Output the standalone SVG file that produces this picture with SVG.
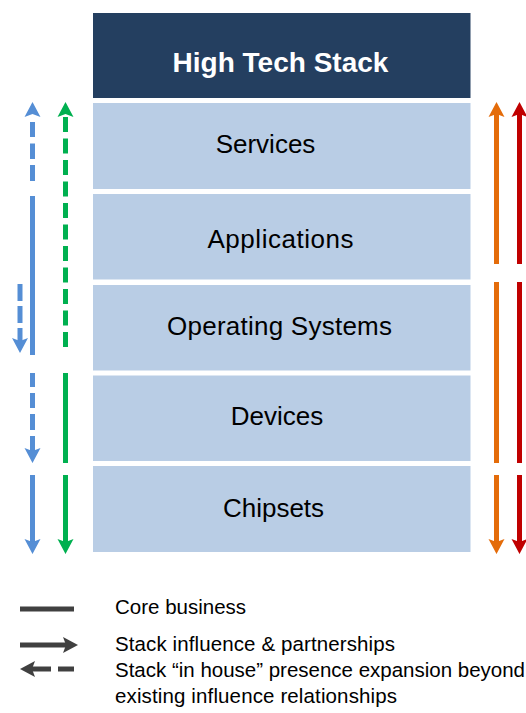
<svg xmlns="http://www.w3.org/2000/svg" xmlns:xlink="http://www.w3.org/1999/xlink" width="526" height="713" viewBox="0 0 526 713">
  <style>
    .layer { fill: #b9cde5; }
    .layer-label { font-family: "Liberation Sans", Arial, sans-serif; font-size: 26px; fill: #000000; text-anchor: middle; }
    .title { font-family: "Liberation Sans", Arial, sans-serif; font-size: 28px; font-weight: bold; fill: #ffffff; text-anchor: middle; }
    .shaft { stroke-width: 5; fill: none; stroke-linecap: butt; }
    .dash { stroke-dasharray: 15 6.5; }
    .blue { stroke: #558ed5; fill: #558ed5; }
    .green { stroke: #00b050; fill: #00b050; }
    .orange { stroke: #e46c0a; fill: #e46c0a; }
    .red { stroke: #c00000; fill: #c00000; }
    .grey { stroke: #404040; fill: #404040; }
    .head { stroke: none; }
    .legend-text { font-family: "Liberation Sans", Arial, sans-serif; font-size: 20.5px; fill: #000000; }
  </style>
  <defs>
    <!-- arrowhead pointing down, tip at the origin -->
    <path id="head" d="M0,0 L-8,-15 L0,-12 L8,-15 Z"/>
  </defs>

  <rect width="526" height="713" fill="#ffffff"/>

  <g id="title">
    <rect x="93" y="13" width="377.5" height="85" fill="#243f60"/>
    <text class="title" x="280.5" y="72">High Tech Stack</text>
  </g>
  <g id="services">
    <rect class="layer" x="93" y="103" width="377.5" height="86"/>
    <text class="layer-label" x="265.5" y="153">Services</text>
  </g>
  <g id="applications">
    <rect class="layer" x="93" y="194" width="377.5" height="85.5"/>
    <text class="layer-label" x="280.5" y="248" textLength="146" lengthAdjust="spacing">Applications</text>
  </g>
  <g id="operating-systems">
    <rect class="layer" x="93" y="285" width="377.5" height="85.5"/>
    <text class="layer-label" x="279.5" y="335" textLength="225" lengthAdjust="spacing">Operating Systems</text>
  </g>
  <g id="devices">
    <rect class="layer" x="93" y="375.5" width="377.5" height="85.5"/>
    <text class="layer-label" x="277" y="425">Devices</text>
  </g>
  <g id="chipsets">
    <rect class="layer" x="93" y="466" width="377.5" height="86"/>
    <text class="layer-label" x="273.5" y="517">Chipsets</text>
  </g>

  <g id="connectors">
    <!-- blue, outer column -->
    <g class="blue">
      <use xlink:href="#head" class="head" transform="translate(32.5,102) rotate(180)"/>
      <line class="shaft" x1="32.5" y1="122" x2="32.5" y2="137"/>
      <line class="shaft" x1="32.5" y1="143.5" x2="32.5" y2="159"/>
      <line class="shaft" x1="32.5" y1="165" x2="32.5" y2="181"/>
      <line class="shaft" x1="32.5" y1="196" x2="32.5" y2="355"/>
      <line class="shaft" x1="32.5" y1="373" x2="32.5" y2="387"/>
      <line class="shaft" x1="32.5" y1="393" x2="32.5" y2="408"/>
      <line class="shaft" x1="32.5" y1="414" x2="32.5" y2="430"/>
      <line class="shaft" x1="32.5" y1="436" x2="32.5" y2="452"/>
      <use xlink:href="#head" class="head" transform="translate(32.5,463)"/>
      <line class="shaft" x1="32.5" y1="475" x2="32.5" y2="543"/>
      <use xlink:href="#head" class="head" transform="translate(32.5,554)"/>
      <!-- short in-house expansion arrow -->
      <line class="shaft" x1="20" y1="284" x2="20" y2="301"/>
      <line class="shaft" x1="20" y1="306" x2="20" y2="323"/>
      <line class="shaft" x1="20" y1="328" x2="20" y2="342"/>
      <use xlink:href="#head" class="head" transform="translate(20,353)"/>
    </g>
    <!-- green column -->
    <g class="green">
      <use xlink:href="#head" class="head" transform="translate(65.5,102) rotate(180)"/>
      <line class="shaft dash" x1="65.5" y1="117" x2="65.5" y2="350"/>
      <line class="shaft" x1="65.5" y1="373" x2="65.5" y2="463"/>
      <line class="shaft" x1="65.5" y1="475" x2="65.5" y2="543"/>
      <use xlink:href="#head" class="head" transform="translate(65.5,554)"/>
    </g>
    <!-- orange column -->
    <g class="orange">
      <use xlink:href="#head" class="head" transform="translate(496.5,102) rotate(180)"/>
      <line class="shaft" x1="496.5" y1="112" x2="496.5" y2="264"/>
      <line class="shaft" x1="496.5" y1="282" x2="496.5" y2="463"/>
      <line class="shaft" x1="496.5" y1="475" x2="496.5" y2="543"/>
      <use xlink:href="#head" class="head" transform="translate(496.5,554)"/>
    </g>
    <!-- red column -->
    <g class="red">
      <use xlink:href="#head" class="head" transform="translate(519.5,102) rotate(180)"/>
      <line class="shaft" x1="519.5" y1="112" x2="519.5" y2="264"/>
      <line class="shaft" x1="519.5" y1="282" x2="519.5" y2="463"/>
      <line class="shaft" x1="519.5" y1="475" x2="519.5" y2="543"/>
      <use xlink:href="#head" class="head" transform="translate(519.5,554)"/>
    </g>
  </g>

  <g id="legend">
    <g class="grey">
      <line class="shaft" x1="20" y1="609" x2="74" y2="609"/>
      <line class="shaft" x1="20" y1="645" x2="68" y2="645"/>
      <use xlink:href="#head" class="head" transform="translate(78,645) rotate(-90)"/>
      <use xlink:href="#head" class="head" transform="translate(20,669) rotate(90)"/>
      <line class="shaft" x1="30" y1="669" x2="51" y2="669"/>
      <line class="shaft" x1="58" y1="669" x2="74" y2="669"/>
    </g>
    <text class="legend-text" x="115" y="614">Core business</text>
    <text class="legend-text" x="115" y="651" textLength="280" lengthAdjust="spacing">Stack influence &amp; partnerships</text>
    <text class="legend-text" x="115" y="677" textLength="410" lengthAdjust="spacing">Stack “in house” presence expansion beyond</text>
    <text class="legend-text" x="115" y="703" textLength="282" lengthAdjust="spacing">existing influence relationships</text>
  </g>
</svg>
